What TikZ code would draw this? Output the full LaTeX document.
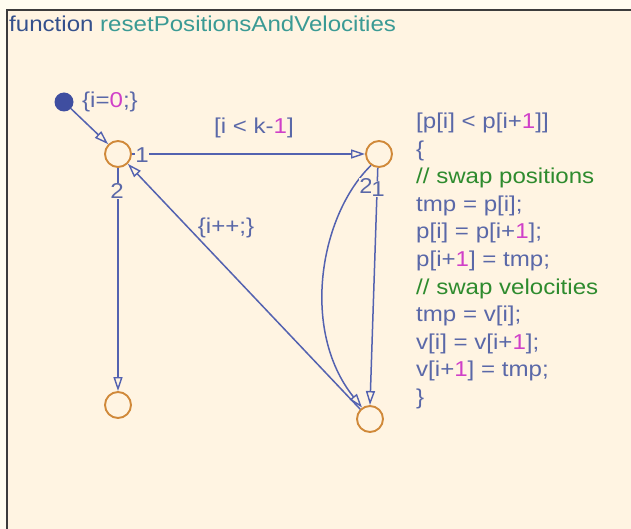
\documentclass[tikz,border=0pt]{standalone}
\usepackage{fontspec}
\setmainfont{Liberation Sans}[FakeStretch=1.12]
\usetikzlibrary{arrows.meta}
\definecolor{outbg}{HTML}{FFFCF0}
\definecolor{inbg}{HTML}{FFF4E2}
\definecolor{framec}{HTML}{3C3C3C}
\definecolor{trans}{HTML}{5362B0}
\definecolor{lbl}{HTML}{5A68A8}
\definecolor{magen}{HTML}{D040C8}
\definecolor{comm}{HTML}{2E8B2E}
\definecolor{kw}{HTML}{34508C}
\definecolor{fname}{HTML}{3A9A94}
\definecolor{stateor}{HTML}{D0893A}
\definecolor{dotc}{HTML}{3F4EA0}
\newcommand{\mg}[1]{\textcolor{magen}{#1}}
\begin{document}
\begin{tikzpicture}[x=1pt,y=1pt,
  state/.style={circle,draw=stateor,line width=1.9pt,minimum size=26pt,inner sep=0pt},
  tr/.style={draw=trans,line width=1.5pt,-{Triangle[open,length=14pt,width=9pt,line width=1.4pt]}},
  lab/.style={text=lbl,font=\fontsize{21.5}{25}\selectfont,inner sep=1pt},
  ord/.style={lab,fill=inbg,inner sep=0.5pt},
  code/.style={lab,anchor=base west,inner sep=0pt},
]
\fill[outbg] (0,0) rectangle (631,-529);
\useasboundingbox (0,0) rectangle (631,-529);
\fill[inbg] (7,-10) rectangle (640,-540);
\draw[framec,line width=2pt] (7,-540) -- (7,-10) -- (640,-10);
\node[anchor=base west,inner sep=0pt,font=\fontsize{21.5}{25}\selectfont] (title) at (9,-32)
  {\textcolor{kw}{function} \textcolor{fname}{resetPositionsAndVelocities}};

% states
\node[state] (A) at (118,-154) {};
\node[state] (B) at (379,-154) {};
\node[state] (C) at (118,-405) {};
\node[state] (D) at (370,-419) {};
\node[circle,fill=dotc,minimum size=19pt,inner sep=0pt] (I) at (64,-102) {};
\node[lab,anchor=west] (il) at (81,-102) {\{i=\mg{0};\}};

% transitions
\draw[tr] (I) -- (A.135);
\draw[tr] (A.east) -- (B.west);
\node[lab] (g1) at (254,-128) {[i < k-\mg{1}]};
\node[ord] (o1) at (142,-155) {1};
\draw[tr] (A.south) -- (C.north);
\node[ord] (o2) at (117,-191) {2};
\draw[tr] (B.265) -- (D.90);
\draw[tr] (B.235) .. controls (320,-215) and (300,-330) .. (D.125);
\node[ord] (o3) at (366,-186) {2};
\node[ord] (o4) at (378,-189) {1};
\draw[tr] (D.135) -- (A.315);
\node[lab] (inc) at (226,-228) {\{i++;\}};

% code
\node[code] (c0) at (416,-129) {[p[i] < p[i+\mg{1}]]};
\node[code] (c1) at (416,-156.5) {\{};
\node[code,text=comm] (c2) at (416,-184) {// swap positions};
\node[code] (c3) at (416,-211.5) {tmp = p[i];};
\node[code] (c4) at (416,-239) {p[i] = p[i+\mg{1}];};
\node[code] (c5) at (416,-266.5) {p[i+\mg{1}] = tmp;};
\node[code,text=comm] (c6) at (416,-294) {// swap velocities};
\node[code] (c7) at (416,-321.5) {tmp = v[i];};
\node[code] (c8) at (416,-349) {v[i] = v[i+\mg{1}];};
\node[code] (c9) at (416,-376.5) {v[i+\mg{1}] = tmp;};
\node[code] (c10) at (416,-404) {\}};
\end{tikzpicture}
\end{document}
